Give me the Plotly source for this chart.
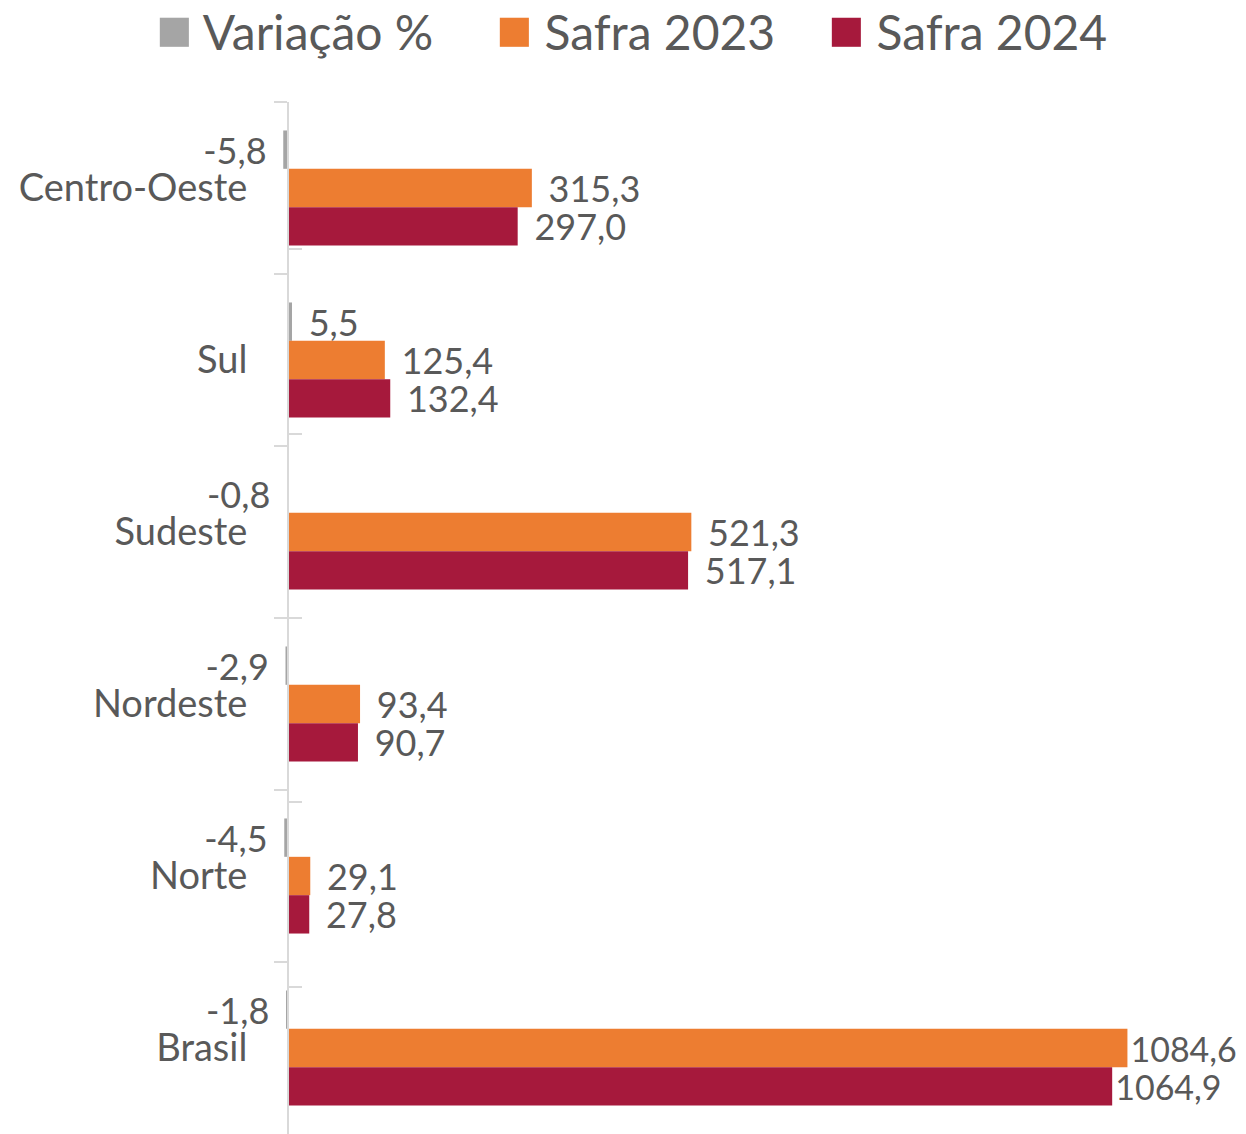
import plotly.graph_objects as go

# dados (mil toneladas / %)
regioes = ["Centro-Oeste", "Sul", "Sudeste", "Nordeste", "Norte", "Brasil"]
variacao = [-5.8, 5.5, -0.8, -2.9, -4.5, -1.8]
safra_2023 = [315.3, 125.4, 521.3, 93.4, 29.1, 1084.6]
safra_2024 = [297.0, 132.4, 517.1, 90.7, 27.8, 1064.9]
nomes = ["Variação %", "Safra 2023", "Safra 2024"]

cinza = "#A5A5A5"
laranja = "#ED7D31"
vinho = "#A6193C"
cor_texto = "#595959"
cor_eixo = "#D9D9D9"
fonte = "Lato"

# a página tem margem de 8px no body, por isso 1238x1126
largura, altura = 1238, 1126
margem_esq, margem_dir, margem_top = 272, 6, 94
x_min, x_max = -10, 1230
pos_eixo = -x_min / (x_max - x_min)
largura_plot = largura - margem_esq - margem_dir
altura_plot = altura - margem_top


def rotulo(v):
    s = f"{v:.1f}".replace(".", ",")
    if v < 0:
        return s + "\u00a0\u2009"
    if v > 1000:
        return s
    return "\u00a0\u2009" + s


fig = go.Figure()
for nome, valores, cor in zip(nomes, [variacao, safra_2023, safra_2024], [cinza, laranja, vinho]):
    fig.add_trace(go.Bar(
        y=regioes, x=valores, orientation="h", name=nome,
        marker=dict(color=cor, line_width=0),
        text=[rotulo(v) for v in valores], textposition="outside",
        textfont=dict(size=[34 if v > 1000 else 36 for v in valores],
                      color=cor_texto, family=fonte),
        cliponaxis=False, constraintext="none", showlegend=False,
    ))

# traço auxiliar só para desenhar os ticks internos do eixo
fig.add_trace(go.Scatter(y=regioes, x=safra_2023, yaxis="y2", mode="markers",
                         marker_opacity=0, showlegend=False, hoverinfo="skip"))

eixo_cat = dict(type="category", categoryorder="array", categoryarray=regioes,
                autorange="reversed", anchor="free", position=pos_eixo,
                tickson="boundaries", showgrid=False, tickcolor=cor_eixo,
                tickwidth=1.5, ticklen=13)

fig.update_layout(
    width=largura, height=altura,
    margin=dict(l=margem_esq, r=margem_dir, t=margem_top, b=0),
    paper_bgcolor="white", plot_bgcolor="white",
    bargap=0.331, bargroupgap=0, barmode="group",
    font=dict(family=fonte, color=cor_texto),
    xaxis=dict(range=[x_min, x_max], visible=False),
    yaxis=dict(**eixo_cat, ticks="outside", showline=True, linecolor=cor_eixo,
               linewidth=1.5, tickfont=dict(size=38, color=cor_texto, family=fonte),
               ticklabelstandoff=32),
    yaxis2=dict(**eixo_cat, overlaying="y", ticks="inside", showline=False,
                showticklabels=False),
    showlegend=False,
)

# legenda no topo
for nome, cor, px in zip(nomes, [cinza, laranja, vinho], [146, 486, 818]):
    fig.add_annotation(
        x=(px - margem_esq) / largura_plot, y=(altura - 19) / altura_plot,
        xref="paper", yref="paper", xanchor="left", yanchor="middle",
        showarrow=False,
        text=f'<span style="color:{cor};font-size:60px">■</span> {nome}',
        font=dict(size=48, color=cor_texto, family=fonte),
    )

fig.write_html("out.html")
